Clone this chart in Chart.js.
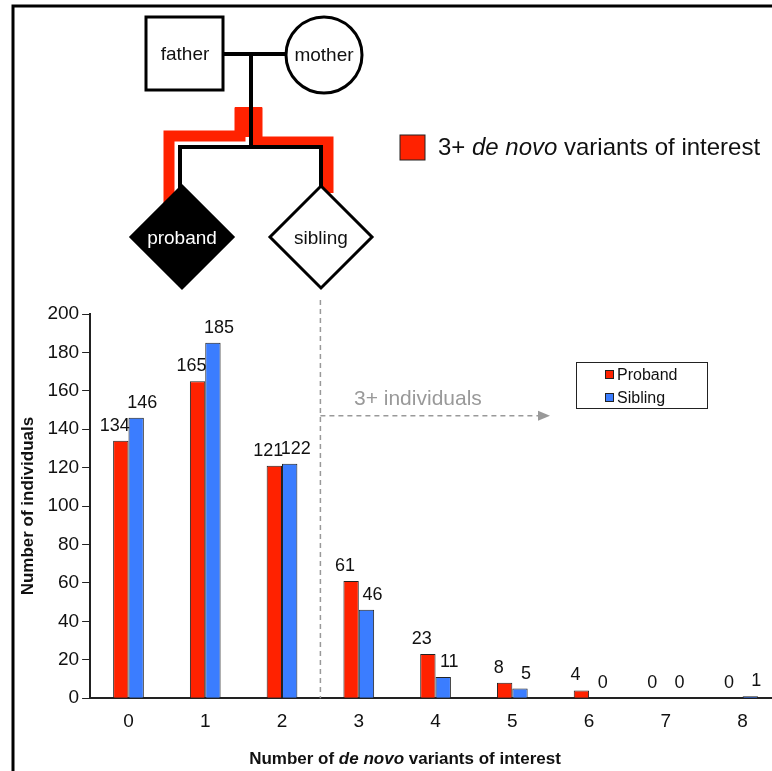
<!DOCTYPE html>
<html>
<head>
<meta charset="utf-8">
<script src="https://cdn.jsdelivr.net/npm/chart.js@4.4.0/dist/chart.umd.min.js"></script>
<style>
  html, body { margin: 0; padding: 0; background: #fff; overflow: hidden; }
  #wrap { position: absolute; left: 0; top: 0; width: 800px; height: 771px; }
</style>
</head>
<body>
<div id="wrap"><canvas id="chart"></canvas></div>
<script>
const categories = ["0", "1", "2", "3", "4", "5", "6", "7", "8"];
const probandValues = [134, 165, 121, 61, 23, 8, 4, 0, 0];
const siblingValues = [146, 185, 122, 46, 11, 5, 0, 0, 1];
const yTicks = [0, 20, 40, 60, 80, 100, 120, 140, 160, 180, 200];

const FONT = "'Liberation Sans', Arial, sans-serif";

// mixed-style text helper: parts = [[text, italic], ...]
function drawParts(ctx, parts, cx, cy, size, weight) {
  const fontFor = (it) => (it ? "italic " : "") + (weight || "") + " " + size + "px " + FONT;
  let total = 0;
  parts.forEach(([t, it]) => { ctx.font = fontFor(it); total += ctx.measureText(t).width; });
  let tx = cx - total / 2;
  ctx.textAlign = "left";
  parts.forEach(([t, it]) => { ctx.font = fontFor(it); ctx.fillText(t, tx, cy); tx += ctx.measureText(t).width; });
}

// value labels above each bar
const valueLabels = {
  id: "valueLabels",
  afterDatasetsDraw(chart) {
    const ctx = chart.ctx;
    ctx.save();
    ctx.font = "18px " + FONT;
    ctx.fillStyle = "#111";
    ctx.textAlign = "center";
    ctx.textBaseline = "bottom";
    chart.data.datasets.forEach((ds, i) => {
      chart.getDatasetMeta(i).data.forEach((bar, j) => {
        ctx.fillText(String(ds.data[j]), bar.x + (i === 0 ? -6 : 6), bar.y - 6);
      });
    });
    ctx.restore();
  }
};

// frame, pedigree, dashed divider and legend
const decorations = {
  id: "decorations",
  afterDraw(chart) {
    const ctx = chart.ctx;
    const x = chart.scales.x, y = chart.scales.y;
    ctx.save();

    // frame
    ctx.strokeStyle = "#000";
    ctx.lineWidth = 3;
    ctx.beginPath();
    ctx.moveTo(13, 771);
    ctx.lineTo(13, 6);
    ctx.lineTo(800, 6);
    ctx.stroke();

    // red highlight path
    ctx.strokeStyle = "#ff2200";
    ctx.lineWidth = 11;
    ctx.lineJoin = "miter";
    ctx.beginPath();
    ctx.moveTo(169, 205);
    ctx.lineTo(169, 136);
    ctx.lineTo(240, 136);
    ctx.lineTo(240, 113);
    ctx.lineTo(257, 113);
    ctx.lineTo(257, 142);
    ctx.lineTo(328, 142);
    ctx.lineTo(328, 193);
    ctx.stroke();
    ctx.fillStyle = "#ff2200";
    ctx.fillRect(235, 107, 27, 30);

    // pedigree lines
    ctx.strokeStyle = "#000";
    ctx.lineWidth = 4;
    ctx.beginPath();
    ctx.moveTo(223, 54); ctx.lineTo(285, 54);
    ctx.moveTo(251, 54); ctx.lineTo(251, 147);
    ctx.moveTo(180, 147); ctx.lineTo(323, 147);
    ctx.moveTo(180, 145); ctx.lineTo(180, 190);
    ctx.moveTo(321, 145); ctx.lineTo(321, 190);
    ctx.stroke();

    // father, mother
    ctx.lineWidth = 3;
    ctx.fillStyle = "#fff";
    ctx.fillRect(146, 17, 77, 73);
    ctx.strokeRect(146, 17, 77, 73);
    ctx.beginPath();
    ctx.arc(324, 55, 38, 0, Math.PI * 2);
    ctx.fill(); ctx.stroke();

    // proband, sibling diamonds
    const diamond = (cx, cy, h, fill) => {
      ctx.beginPath();
      ctx.moveTo(cx, cy - h); ctx.lineTo(cx + h, cy);
      ctx.lineTo(cx, cy + h); ctx.lineTo(cx - h, cy);
      ctx.closePath();
      ctx.fillStyle = fill;
      ctx.fill(); ctx.stroke();
    };
    diamond(182, 237, 51, "#000");
    diamond(321, 237, 51, "#fff");

    ctx.font = "19px " + FONT;
    ctx.textAlign = "center";
    ctx.textBaseline = "middle";
    ctx.fillStyle = "#111";
    ctx.fillText("father", 185, 55);
    ctx.fillText("mother", 324, 56);
    ctx.fillText("sibling", 321, 239);
    ctx.fillStyle = "#fff";
    ctx.fillText("proband", 182, 239);

    // top legend
    ctx.fillStyle = "#ff2200";
    ctx.fillRect(400, 135, 25, 25);
    ctx.strokeStyle = "#222";
    ctx.lineWidth = 1;
    ctx.strokeRect(400, 135, 25, 25);
    ctx.fillStyle = "#111";
    drawParts(ctx, [["3+ ", false], ["de novo", true], [" variants of interest", false]], 599, 148, 24, "");

    // x axis title
    drawParts(ctx, [["Number of ", false], ["de novo", true], [" variants of interest", false]], 405, 759, 17, "bold");

    // dashed divider between 2 and 3
    const xDiv = (x.getPixelForValue(2) + x.getPixelForValue(3)) / 2;
    const yArrow = y.getPixelForValue(147);
    ctx.strokeStyle = "#999";
    ctx.lineWidth = 1.5;
    ctx.setLineDash([5, 4]);
    ctx.beginPath();
    ctx.moveTo(xDiv, 300); ctx.lineTo(xDiv, y.getPixelForValue(0));
    ctx.moveTo(xDiv, yArrow); ctx.lineTo(540, yArrow);
    ctx.stroke();
    ctx.setLineDash([]);
    ctx.fillStyle = "#999";
    ctx.beginPath();
    ctx.moveTo(550, yArrow); ctx.lineTo(538, yArrow - 5); ctx.lineTo(538, yArrow + 5);
    ctx.closePath(); ctx.fill();
    ctx.font = "21px " + FONT;
    ctx.textAlign = "left";
    ctx.fillText("3+ individuals", 354, 399);

    // series legend box
    ctx.strokeStyle = "#222";
    ctx.lineWidth = 1;
    ctx.strokeRect(576.5, 362.5, 131, 46);
    ctx.font = "16px " + FONT;
    const items = [["Proband", "#ff2200", 375], ["Sibling", "#3b7dff", 398]];
    items.forEach(([label, color, ly]) => {
      ctx.fillStyle = color;
      ctx.fillRect(605, ly - 5, 9, 9);
      ctx.strokeRect(605.5, ly - 4.5, 8, 8);
      ctx.fillStyle = "#111";
      ctx.fillText(label, 617, ly + 1);
    });

    ctx.restore();
  }
};

new Chart(document.getElementById("chart"), {
  type: "bar",
  data: {
    labels: categories,
    datasets: [
      { label: "Proband", data: probandValues, backgroundColor: "#ff2200", borderColor: "#222", borderWidth: 1 },
      { label: "Sibling", data: siblingValues, backgroundColor: "#3b7dff", borderColor: "#222", borderWidth: 1 }
    ]
  },
  options: {
    responsive: true,
    maintainAspectRatio: false,
    animation: false,
    layout: { padding: { top: 314, left: 14, right: 19, bottom: 26 } },
    categoryPercentage: 0.4,
    barPercentage: 1.0,
    plugins: { legend: { display: false }, tooltip: { enabled: false } },
    scales: {
      x: {
        grid: { display: false, drawTicks: false },
        border: { color: "#222", width: 2 },
        ticks: { color: "#111", font: { family: FONT, size: 19 }, padding: 12 }
      },
      y: {
        min: 0,
        max: 200,
        afterBuildTicks: (axis) => { axis.ticks = yTicks.map((v) => ({ value: v })); },
        grid: { display: true, drawOnChartArea: false, drawTicks: true, tickLength: 8, color: "#222" },
        border: { color: "#222", width: 2 },
        ticks: { color: "#111", font: { family: FONT, size: 19 }, padding: 3 },
        title: {
          display: true,
          text: "Number of individuals",
          color: "#111",
          font: { family: FONT, size: 17, weight: "bold" },
          padding: { bottom: 6 }
        }
      }
    }
  },
  plugins: [valueLabels, decorations]
});
</script>
</body>
</html>
